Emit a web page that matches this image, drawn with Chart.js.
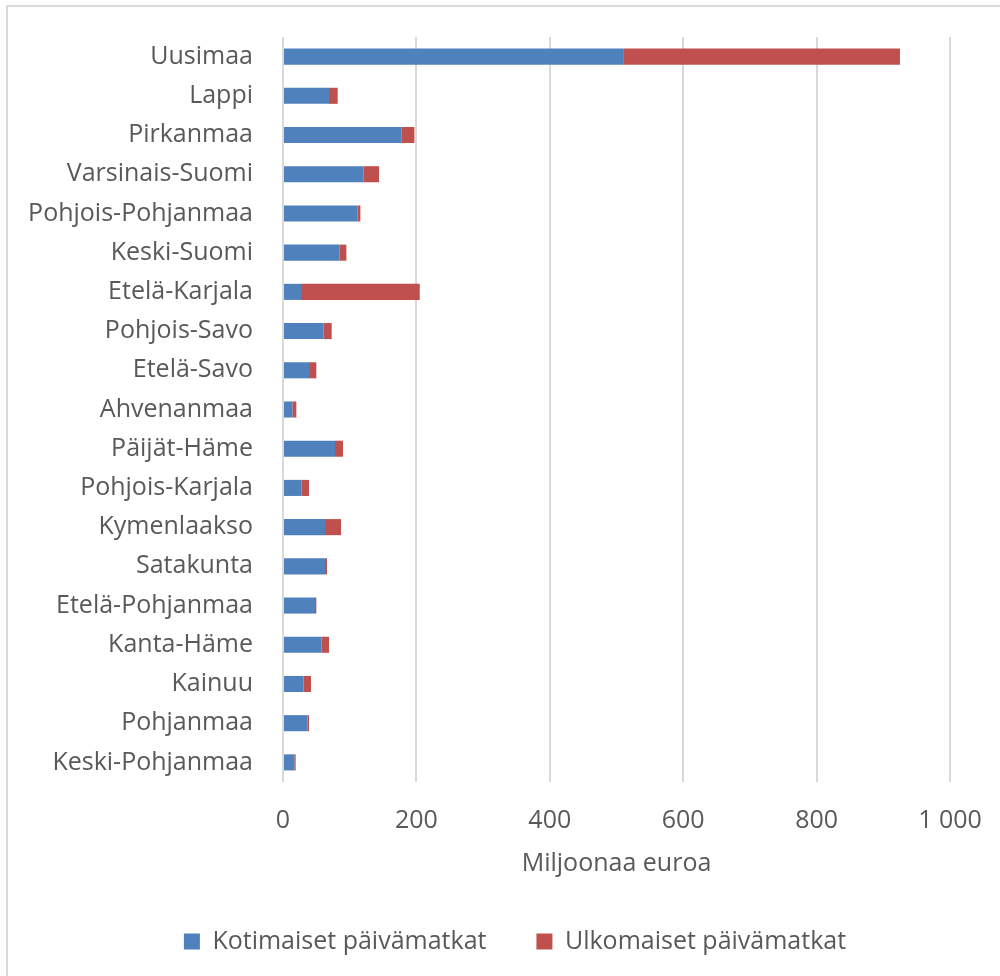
<!DOCTYPE html>
<html>
<head>
<meta charset="utf-8">
<script src="https://cdn.jsdelivr.net/npm/chart.js@4"></script>
<style>
  html, body { margin: 0; padding: 0; background: #fff; overflow: hidden; }
  #frame { position: absolute; left: 6px; top: 5px; width: 1010px; height: 1000px; border: 2px solid #d9d9d9; }
  #wrap { position: absolute; left: 0; top: 0; width: 1000px; height: 976px; }
</style>
</head>
<body>
<div id="frame"></div>
<div id="wrap"><canvas id="myChart"></canvas></div>
<script>
// maakunnat ylhäältä alas
const regions = ["Uusimaa", "Lappi", "Pirkanmaa", "Varsinais-Suomi", "Pohjois-Pohjanmaa", "Keski-Suomi",
  "Etelä-Karjala", "Pohjois-Savo", "Etelä-Savo", "Ahvenanmaa", "Päijät-Häme", "Pohjois-Karjala",
  "Kymenlaakso", "Satakunta", "Etelä-Pohjanmaa", "Kanta-Häme", "Kainuu", "Pohjanmaa", "Keski-Pohjanmaa"];
const kotimaiset = [510, 69, 178, 121, 112, 85, 27, 61, 39, 14, 78, 28, 63, 63, 48, 58, 31, 37, 17];
const ulkomaiset = [415, 13, 19, 23, 4, 10, 178, 12, 11, 6, 12, 11, 24, 3, 2, 11, 11, 2, 2];
const xTicks = [0, 200, 400, 600, 800, 1000];

const textColor = '#595959';
Chart.defaults.font.family = "'Open Sans', 'DejaVu Sans', sans-serif";
Chart.defaults.color = textColor;

// siirretään selitettä hieman oikealle kuten alkuperäisessä
const legendShift = {
  id: 'legendShift',
  afterLayout(chart) {
    if (chart.legend) {
      chart.legend.left += 40;
      chart.legend.right += 40;
    }
  }
};

var data = {
  labels: regions,
  datasets: [
    {
      label: "Kotimaiset päivämatkat",
      backgroundColor: "#4f81bd",
      data: kotimaiset
    },
    {
      label: "Ulkomaiset päivämatkat",
      backgroundColor: "#c0504d",
      data: ulkomaiset
    }
  ]
};

var options = {
  indexAxis: 'y',
  responsive: false,
  animation: false,
  datasets: {
    bar: { categoryPercentage: 1, barPercentage: 0.41 }
  },
  layout: {
    padding: { top: 29, right: 50, left: 0, bottom: 12 }
  },
  plugins: {
    legend: {
      position: 'bottom',
      labels: {
        boxWidth: 16,
        boxHeight: 16,
        padding: 50,
        color: textColor,
        font: { size: 25 }
      }
    },
    tooltip: { enabled: false }
  },
  scales: {
    x: {
      stacked: true,
      min: 0,
      max: 1000,
      afterBuildTicks: (s) => { s.ticks = xTicks.map(v => ({ value: v })); },
      afterFit: (s) => { s.height = 97; s.paddingRight = 0; s.paddingLeft = 0; },
      grid: { color: '#d9d9d9', lineWidth: 2, drawTicks: false },
      border: { display: false },
      ticks: {
        padding: 24,
        color: textColor,
        font: { size: 25 },
        callback: (v) => v >= 1000 ? String(v).replace(/\B(?=(\d{3})+$)/g, ' ') : String(v)
      },
      title: {
        display: true,
        text: 'Miljoonaa euroa',
        color: textColor,
        font: { size: 25 },
        padding: { top: 4, bottom: 0 }
      }
    },
    y: {
      stacked: true,
      afterFit: (s) => { s.width = 283; },
      grid: { display: false },
      border: { display: false },
      ticks: {
        padding: 22,
        color: textColor,
        font: { size: 25 }
      }
    }
  }
};

const ctx = document.getElementById('myChart');
ctx.width = 1000;
ctx.height = 976;
new Chart(ctx, {
  type: 'bar',
  data: data,
  options: options,
  plugins: [legendShift]
});
</script>
</body>
</html>
